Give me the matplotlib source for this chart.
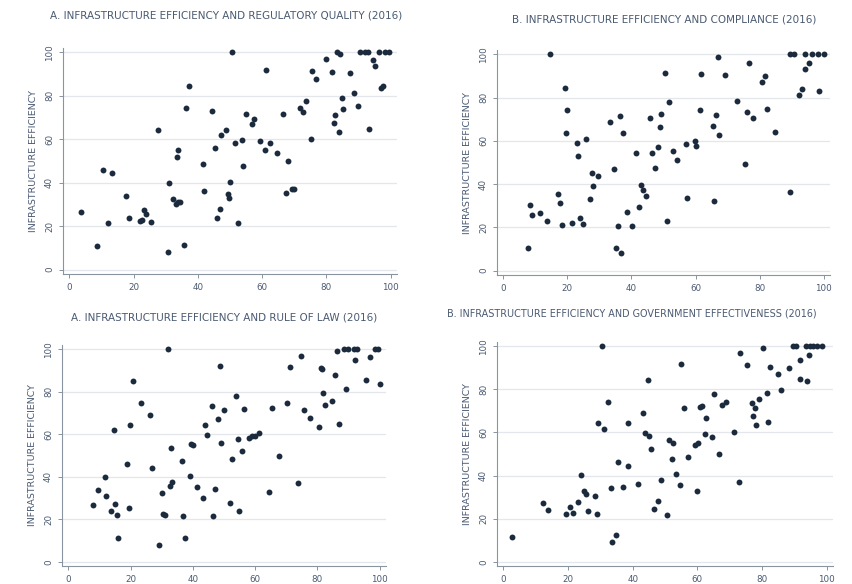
import numpy as np
import matplotlib.pyplot as plt

# values
reg_x = [50.6, 3.7, 8.5, 10.5, 13.3, 11.9, 17.7, 18.5, 22.0, 22.6, 23.3, 23.7, 25.4, 27.7,
         30.6, 30.9, 32.4, 33.1, 33.7, 34.5, 33.5, 33.9, 35.8, 36.3, 37.2, 41.5, 42.0, 44.5,
         45.4, 45.8, 46.8, 47.3, 48.7, 49.3, 49.8, 50.1, 51.7, 52.6, 53.6, 54.2, 55.1, 56.9,
         57.6, 59.3, 61.2, 60.8, 62.4, 64.6, 66.5, 67.5, 68.0, 69.4, 70.0, 71.7, 72.8, 73.8,
         75.2, 75.5, 76.7, 80.0, 81.8, 82.3, 82.8, 83.4, 84.4, 83.9, 84.8, 85.2, 87.5, 88.6,
         89.9, 90.4, 92.0, 93.0, 93.3, 94.4, 95.3, 96.4, 97.1, 97.7, 98.4, 99.5]
reg_y = [100, 26.7, 10.9, 45.8, 44.4, 21.5, 34.1, 23.7, 22.4, 22.7, 27.3, 25.8, 22.0, 64.2,
         8.1, 39.9, 32.4, 30.1, 31.2, 31.0, 51.9, 55.0, 11.5, 74.5, 84.6, 48.4, 36.1, 73.1,
         55.9, 23.8, 27.8, 61.8, 64.2, 34.6, 32.9, 40.2, 58.1, 21.5, 59.6, 47.8, 71.4, 67.0,
         69.3, 59.4, 91.9, 55.0, 58.1, 53.5, 71.7, 35.3, 49.8, 37.0, 37.3, 74.5, 72.4, 77.6,
         60.2, 91.6, 87.6, 96.8, 91.1, 67.3, 71.1, 100, 99.1, 63.4, 79.1, 73.7, 90.5, 81.1,
         75.4, 100, 100, 100, 64.8, 96.5, 93.9, 100, 83.7, 84.5, 100, 100]

comp_x = [14.7, 7.6, 8.4, 8.9, 11.4, 13.6, 17.2, 17.6, 18.4, 19.1, 19.9, 19.5, 21.4, 23.0,
          23.2, 23.9, 24.9, 25.7, 27.2, 27.6, 28.1, 29.5, 33.3, 34.4, 35.3, 35.7, 36.4, 36.8,
          37.3, 38.6, 40.1, 41.5, 42.5, 43.0, 43.5, 44.4, 45.8, 46.3, 47.4, 48.3, 48.8, 49.2,
          50.5, 51.1, 51.7, 52.9, 54.1, 56.9, 57.4, 59.9, 60.3, 61.4, 61.7, 65.5, 65.9, 66.4,
          67.0, 67.4, 69.1, 73.1, 75.5, 76.1, 76.6, 78.0, 80.7, 81.8, 82.2, 84.7, 89.5, 89.6,
          90.8, 92.4, 93.4, 94.1, 94.3, 95.3, 96.3, 98.1, 98.6, 100]
comp_y = [100, 10.3, 30.5, 25.9, 26.7, 23.0, 35.4, 31.4, 21.1, 84.6, 74.3, 63.5, 22.2, 59.2,
          53.0, 24.5, 21.7, 61.0, 33.3, 45.1, 39.3, 43.8, 68.6, 47.0, 10.6, 20.8, 71.3, 8.0,
          63.5, 27.0, 20.8, 54.2, 29.3, 39.6, 37.1, 34.7, 70.6, 54.2, 47.6, 57.3, 66.3, 72.4,
          91.2, 23.1, 77.8, 55.2, 51.3, 58.6, 33.4, 59.8, 57.8, 74.4, 90.9, 66.9, 32.0, 71.8,
          98.9, 62.7, 90.6, 78.6, 49.2, 73.2, 96.1, 70.7, 87.2, 89.8, 74.9, 64.3, 36.2, 100,
          100, 81.1, 84.1, 100, 93.2, 95.8, 100, 100, 82.9, 100]

law_x = [32.0, 7.9, 9.4, 11.7, 12.2, 13.6, 15.1, 15.5, 14.6, 16.1, 19.0, 19.6, 19.9, 20.9,
         23.4, 26.3, 26.9, 29.2, 30.2, 30.5, 31.1, 32.6, 33.4, 33.1, 36.4, 36.8, 37.5, 39.1,
         39.3, 39.9, 41.3, 43.2, 43.8, 44.7, 46.1, 46.6, 47.1, 48.1, 48.6, 49.0, 50.1, 52.0,
         52.5, 53.9, 54.4, 54.9, 55.8, 56.4, 58.1, 59.1, 59.8, 61.3, 64.6, 65.5, 67.5, 70.3,
         71.3, 73.8, 74.8, 75.6, 77.6, 80.4, 81.0, 81.6, 81.9, 82.4, 84.8, 85.5, 86.3, 86.8,
         88.4, 89.2, 89.7, 91.6, 92.7, 92.2, 95.6, 96.8, 98.6, 99.5, 100]
law_y = [100, 26.7, 34.0, 40.1, 31.1, 23.7, 27.4, 21.9, 61.8, 11.0, 45.8, 25.2, 64.2, 84.9,
         74.5, 69.2, 44.2, 8.0, 32.4, 22.6, 22.2, 35.8, 37.4, 53.6, 47.6, 21.4, 11.3, 40.4,
         55.2, 54.9, 35.2, 30.0, 64.2, 59.6, 73.1, 21.4, 34.4, 67.3, 92.1, 56.0, 71.2, 27.7,
         48.4, 77.8, 58.0, 23.9, 51.9, 71.7, 58.3, 59.0, 59.4, 60.4, 32.7, 72.3, 49.7, 74.8,
         91.7, 36.9, 96.9, 71.4, 67.6, 63.4, 91.2, 90.6, 79.4, 73.9, 75.5, 87.7, 99.1, 65.0,
         100, 81.3, 100, 100, 100, 95.1, 85.7, 96.5, 100, 100, 83.8]

gov_x = [30.5, 2.5, 12.2, 13.8, 19.5, 20.7, 21.5, 23.0, 23.9, 24.8, 25.4, 26.3, 28.2, 29.0,
         29.4, 31.0, 32.3, 33.4, 33.7, 34.8, 35.5, 37.0, 38.4, 38.7, 41.7, 43.1, 43.9, 44.6,
         45.0, 45.7, 46.5, 47.7, 48.8, 50.5, 51.2, 52.5, 52.1, 53.5, 54.5, 55.0, 55.8, 57.2,
         59.4, 60.2, 60.0, 60.9, 61.6, 62.6, 62.5, 64.7, 65.2, 66.7, 67.5, 69.0, 71.3, 72.8,
         73.1, 75.5, 76.8, 77.2, 78.0, 78.3, 79.0, 80.2, 81.6, 81.9, 82.6, 85.0, 85.9, 88.3,
         89.5, 90.5, 91.7, 91.9, 93.6, 93.8, 94.6, 94.8, 95.9, 97.1, 98.5]
gov_y = [100, 11.6, 27.2, 24.1, 22.1, 25.5, 22.7, 27.8, 40.2, 32.6, 31.4, 23.6, 30.4, 22.1,
         64.5, 61.8, 74.3, 34.3, 9.0, 12.2, 46.1, 34.6, 64.3, 44.5, 36.3, 69.2, 59.9, 84.5,
         58.3, 52.1, 24.3, 28.0, 38.0, 21.8, 56.3, 55.0, 47.9, 40.6, 35.5, 91.8, 71.3, 48.8,
         54.1, 54.9, 32.8, 71.9, 72.2, 66.9, 59.4, 58.1, 77.7, 50.2, 72.9, 74.3, 60.4, 37.1,
         96.9, 91.3, 73.7, 67.5, 71.3, 63.5, 75.7, 99.1, 78.2, 64.8, 90.6, 87.2, 79.9, 89.8,
         100, 100, 84.7, 93.8, 100, 83.8, 96.1, 100, 100, 100, 100]

titles = ['A. INFRASTRUCTURE EFFICIENCY AND REGULATORY QUALITY (2016)',
          'B. INFRASTRUCTURE EFFICIENCY AND COMPLIANCE (2016)',
          'A. INFRASTRUCTURE EFFICIENCY AND RULE OF LAW (2016)',
          'B. INFRASTRUCTURE EFFICIENCY AND GOVERNMENT EFFECTIVENESS (2016)']
ylabel = 'INFRASTRUCTURE EFFICIENCY'
ticks = [0, 20, 40, 60, 80, 100]

W, H = 852, 584
dot_col = '#1b2b3d'
txt_col = '#4a5a72'
axis_col = '#8a94a0'

fig = plt.figure(figsize=(W / 100, H / 100), dpi=100)

# axes boxes in pixels: left, top, width, height (x and y span -2..102)
boxes = [(63, 48, 334, 226),
         (497, 50, 333, 225),
         (62, 345, 324, 221),
         (497, 342, 336, 224)]
# title anchor (pixels), alignment and size; the last one is squeezed to fit the edge
title_pos = [(226, 16, 'center', 7.5), (664, 19, 'center', 7.5),
             (224, 317, 'center', 7.5), (447, 314, 'left', 6.95)]
data = [(reg_x, reg_y), (comp_x, comp_y), (law_x, law_y), (gov_x, gov_y)]

for (l, t, w, h), (xs, ys), title, (tx, ty, ha, fs) in zip(boxes, data, titles, title_pos):
    ax = fig.add_axes([l / W, (H - t - h) / H, w / W, h / H])
    ax.set_xlim(-2, 102)
    ax.set_ylim(-2, 102)
    ax.set_yticks(ticks)
    ax.set_xticks(ticks)
    ax.grid(axis='y', color='#e3e6ea', linewidth=0.9)
    ax.set_axisbelow(True)
    ax.scatter(xs, ys, s=18, color=dot_col, linewidths=0, zorder=3)
    for s in ['top', 'right']:
        ax.spines[s].set_visible(False)
    for s in ['left', 'bottom']:
        ax.spines[s].set_color(axis_col)
        ax.spines[s].set_linewidth(0.8)
    ax.tick_params(colors=axis_col, labelcolor=txt_col, labelsize=6.3, length=3, width=0.7)
    for lab in ax.get_yticklabels():
        lab.set_rotation(90)
        lab.set_va('center')
    ax.set_ylabel(ylabel, fontsize=6.8, color=txt_col, labelpad=5)
    fig.text(tx / W, 1 - ty / H, title, ha=ha, va='center', fontsize=fs, color=txt_col)

fig.savefig('out.png', dpi=100, facecolor='white')
